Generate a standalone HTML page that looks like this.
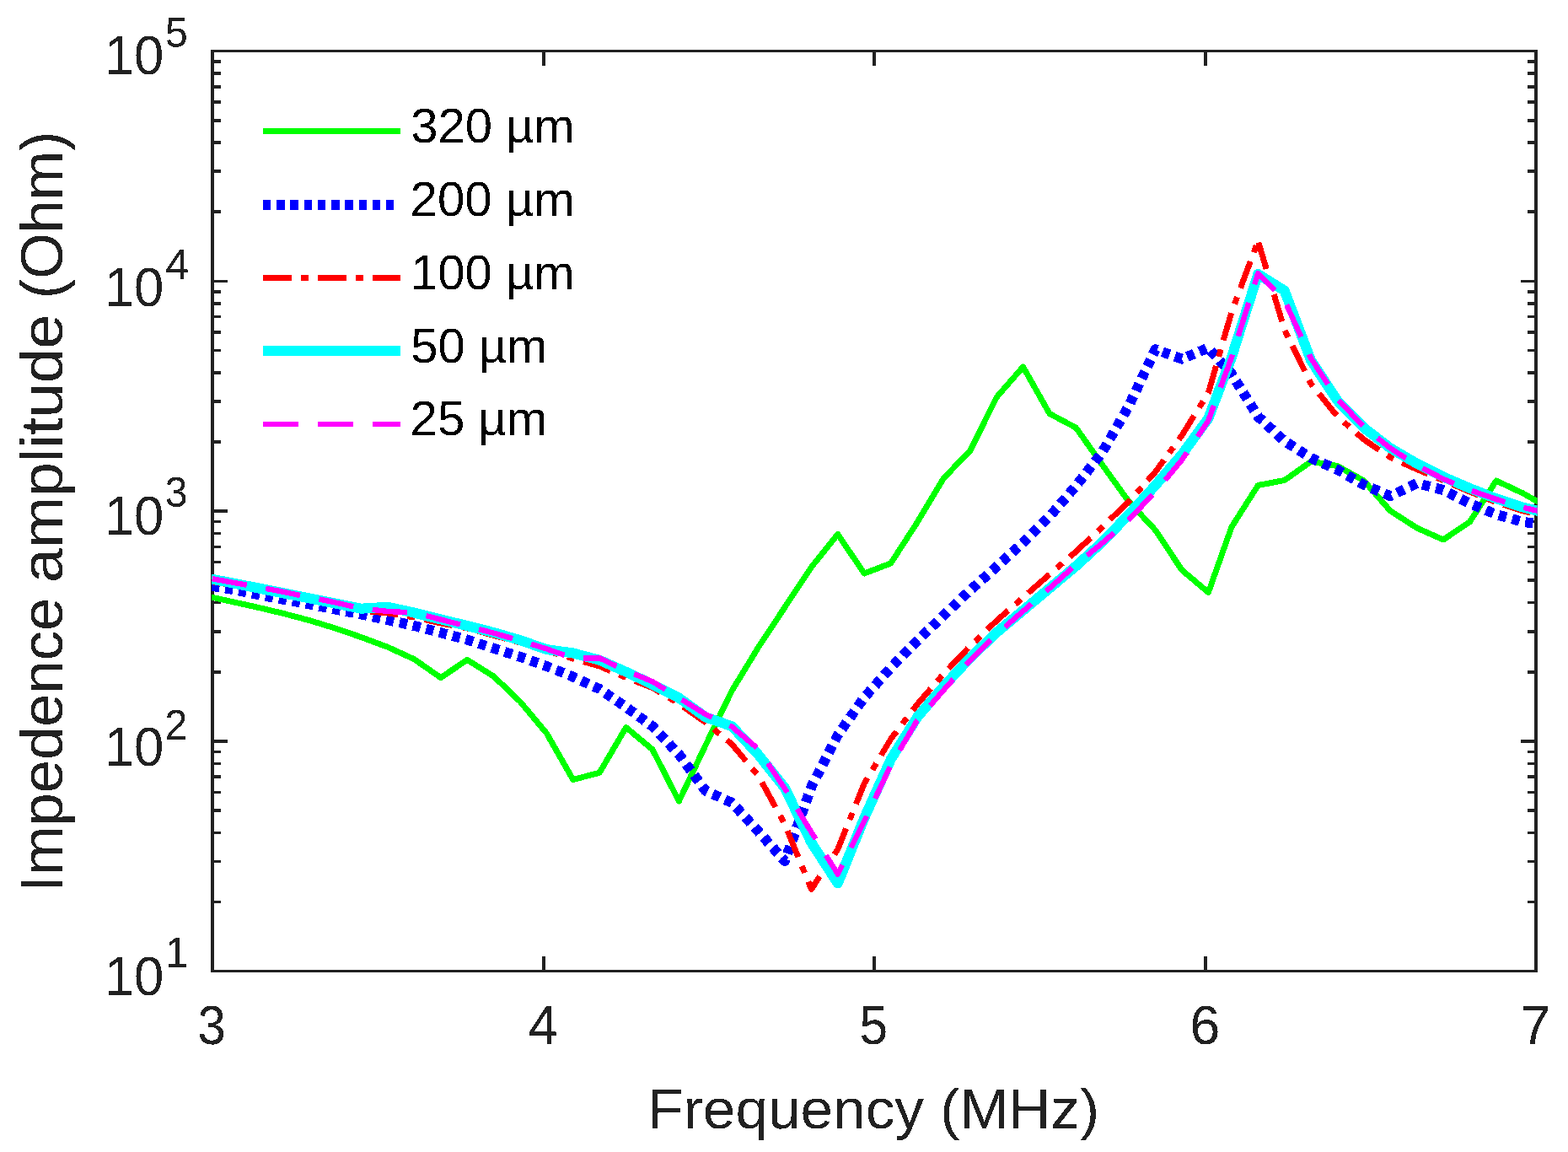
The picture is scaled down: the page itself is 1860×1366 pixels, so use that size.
<!DOCTYPE html>
<html lang="en"><head><meta charset="utf-8"><title>Impedence amplitude vs Frequency</title>
<style>html,body{margin:0;padding:0;background:#fff}body{width:1860px;height:1366px;overflow:hidden}svg{display:block}text{font-family:"Liberation Sans",sans-serif}</style></head><body>
<svg xmlns="http://www.w3.org/2000/svg" width="1860" height="1366" viewBox="0 0 1860 1366">
<rect x="0" y="0" width="1860" height="1366" fill="#fff"/>
<defs><filter id="crisp" filterUnits="userSpaceOnUse" x="0" y="0" width="1860" height="1366" color-interpolation-filters="sRGB"><feComponentTransfer><feFuncA type="discrete" tableValues="0 1"/></feComponentTransfer></filter></defs>
<defs><clipPath id="plot"><rect x="251" y="60.5" width="1572.6" height="1091"/></clipPath></defs>
<g stroke="#212121" fill="none" shape-rendering="crispEdges">
<path stroke-width="3.75" d="M645 1151.5 v-17.4 M645 60.5 v17.4 M1037 1151.5 v-17.4 M1037 60.5 v17.4 M1430 1151.5 v-17.4 M1430 60.5 v17.4"/>
<path stroke-width="3.6" d="M252 73.13 h10 M1822 73.13 h-10 M252 87.08 h10 M1822 87.08 h-10 M252 102.9 h10 M1822 102.9 h-10 M252 121.16 h10 M1822 121.16 h-10 M252 142.76 h10 M1822 142.76 h-10 M252 169.19 h10 M1822 169.19 h-10 M252 203.27 h10 M1822 203.27 h-10 M252 251.29 h10 M1822 251.29 h-10 M252 333.4 h18 M1822 333.4 h-18 M252 345.88 h10 M1822 345.88 h-10 M252 359.83 h10 M1822 359.83 h-10 M252 375.65 h10 M1822 375.65 h-10 M252 393.91 h10 M1822 393.91 h-10 M252 415.51 h10 M1822 415.51 h-10 M252 441.94 h10 M1822 441.94 h-10 M252 476.02 h10 M1822 476.02 h-10 M252 524.04 h10 M1822 524.04 h-10 M252 606.15 h18 M1822 606.15 h-18 M252 618.63 h10 M1822 618.63 h-10 M252 632.58 h10 M1822 632.58 h-10 M252 648.4 h10 M1822 648.4 h-10 M252 666.66 h10 M1822 666.66 h-10 M252 688.26 h10 M1822 688.26 h-10 M252 714.69 h10 M1822 714.69 h-10 M252 748.77 h10 M1822 748.77 h-10 M252 796.79 h10 M1822 796.79 h-10 M252 878.9 h18 M1822 878.9 h-18 M252 891.38 h10 M1822 891.38 h-10 M252 905.33 h10 M1822 905.33 h-10 M252 921.15 h10 M1822 921.15 h-10 M252 939.41 h10 M1822 939.41 h-10 M252 961.01 h10 M1822 961.01 h-10 M252 987.44 h10 M1822 987.44 h-10 M252 1021.52 h10 M1822 1021.52 h-10 M252 1069.54 h10 M1822 1069.54 h-10"/>
<path stroke-width="3.6" d="M250.12 60.5 H1823.88 M250.12 1151.5 H1823.88"/>
<path stroke-width="3.75" d="M252 58.7 V1153.3 M1822 58.7 V1153.3"/>
</g>
<g clip-path="url(#plot)" fill="none" stroke-linejoin="round" stroke-linecap="butt" shape-rendering="crispEdges">
<path stroke="#00ff00" stroke-width="7" d="M240.2 705.7L271.6 712.7L303.0 719.6L334.4 727.0L365.8 735.3L397.2 744.8L428.6 755.6L460.0 767.3L491.4 781.7L522.8 803.6L554.2 782.4L585.6 802.0L617.0 832.0L648.4 869.5L679.8 924.5L711.2 916.2L742.6 862.5L774.0 888.8L805.4 950.0L836.8 884.0L868.2 819.0L899.6 767.5L931.0 720.0L962.4 672.5L993.8 633.5L1025.2 680.0L1056.6 668.0L1088.0 619.5L1119.4 567.0L1150.8 534.5L1182.2 471.0L1213.6 435.0L1245.0 490.5L1276.4 507.2L1307.8 551.5L1339.2 595.0L1370.6 628.7L1402.0 676.0L1433.4 702.5L1460.9 625.0L1492.3 575.5L1523.7 569.5L1555.1 547.3L1586.5 552.5L1617.9 570.0L1649.3 605.8L1680.7 626.0L1712.1 640.0L1743.5 618.8L1774.9 570.0L1806.3 584.8L1837.7 602.4"/>
<g stroke="#0000ff" stroke-width="12" stroke-dasharray="9.3 6.9">
<path pathLength="471.33" stroke-dashoffset="5.00" d="M240.2 693.0L271.6 698.2L303.0 704.4L334.4 710.5L365.8 716.1L397.2 722.4L428.6 728.4L460.0 735.2L491.4 742.0L522.8 750.2L554.2 758.5L585.6 768.8L617.0 778.8L648.4 790.0L679.8 802.5L695.5 809.8"/>
<path pathLength="211.87" stroke-dashoffset="6.53" d="M695.5 809.8L711.2 817.0L742.6 838.5L774.0 861.3L805.4 894.5L836.8 937.5L852.5 944.7"/>
<path pathLength="109.54" stroke-dashoffset="7.79" d="M852.5 944.7L868.2 951.9L899.6 986.0L930.1 1019.9"/>
<path pathLength="5.71" stroke-dashoffset="3.93" d="M930.1 1019.9L931.0 1021.0L932.0 1018.4"/>
<path pathLength="720.68" stroke-dashoffset="9.64" d="M932.0 1018.4L962.4 933.0L993.8 871.5L1025.2 827.0L1056.6 792.0L1088.0 760.0L1119.4 729.5L1150.8 700.0L1182.2 671.9L1213.6 643.5L1245.0 612.5L1276.4 576.0L1307.8 535.8L1339.2 481.0L1354.9 447.6"/>
<path pathLength="90.22" stroke-dashoffset="1.32" d="M1354.9 447.6L1370.6 414.2L1402.0 425.6L1417.7 419.1"/>
<path pathLength="90.40" stroke-dashoffset="10.55" d="M1417.7 419.1L1433.4 412.5L1460.9 443.3L1476.6 468.6"/>
<path pathLength="51.99" stroke-dashoffset="3.75" d="M1476.6 468.6L1492.3 494.0L1508.0 508.5"/>
<path pathLength="145.70" stroke-dashoffset="7.14" d="M1508.0 508.5L1523.7 523.0L1555.1 543.0L1586.5 557.0L1617.9 575.0L1633.6 581.6"/>
<path pathLength="67.12" stroke-dashoffset="7.04" d="M1633.6 581.6L1649.3 588.2L1680.7 573.0L1696.4 577.0"/>
<path pathLength="100.93" stroke-dashoffset="9.36" d="M1696.4 577.0L1712.1 581.0L1743.5 597.0L1774.9 610.0L1790.6 614.4"/>
<path pathLength="47.98" stroke-dashoffset="13.09" d="M1790.6 614.4L1806.3 618.8L1837.7 623.0"/>
</g>
<g stroke="#ff0000" stroke-width="7" stroke-dasharray="33.7 11.4 8.8 11.3">
<path pathLength="861.17" stroke-dashoffset="58.70" d="M240.2 688.0L271.6 693.0L303.0 699.0L334.4 705.0L365.8 711.5L397.2 718.0L428.6 724.0L460.0 727.0L491.4 731.9L522.8 738.9L554.2 744.9L585.6 753.4L617.0 761.9L648.4 771.5L679.8 781.0L711.2 790.0L742.6 803.5L774.0 815.5L805.4 834.5L836.8 856.5L868.2 882.5L899.6 920.0L931.0 977.5L961.5 1052.0"/>
<path pathLength="10.39" stroke-dashoffset="7.07" d="M961.5 1052.0L962.4 1054.3L963.4 1052.9"/>
<path pathLength="624.06" stroke-dashoffset="17.46" d="M963.4 1052.9L993.8 1007.0L1025.2 929.0L1056.6 876.5L1088.0 835.2L1119.4 799.0L1150.8 766.0L1182.2 736.0L1213.6 708.5L1245.0 681.0L1276.4 654.0L1307.8 624.7L1339.2 594.5L1354.9 577.0"/>
<path pathLength="65.93" stroke-dashoffset="54.72" d="M1354.9 577.0L1370.6 559.4L1392.6 529.2"/>
<path pathLength="262.40" stroke-dashoffset="55.45" d="M1392.6 529.2L1402.0 516.2L1433.4 465.7L1460.9 370.0L1491.4 288.1"/>
<path pathLength="10.30" stroke-dashoffset="57.05" d="M1491.4 288.1L1492.3 285.6L1493.2 288.8"/>
<path pathLength="203.40" stroke-dashoffset="2.16" d="M1493.2 288.8L1523.7 391.0L1555.1 455.0L1570.8 474.4"/>
<path pathLength="156.76" stroke-dashoffset="9.96" d="M1570.8 474.4L1586.5 493.8L1617.9 521.2L1649.3 542.5L1680.7 556.5L1696.4 563.0"/>
<path pathLength="150.23" stroke-dashoffset="36.32" d="M1696.4 563.0L1712.1 569.5L1743.5 583.0L1774.9 595.5L1806.3 605.8L1837.7 613.0"/>
</g>
<path stroke="#00ffff" stroke-width="12" d="M240.2 684.7L271.6 690.5L303.0 696.7L334.4 703.0L365.8 709.2L397.2 715.5L428.6 721.7L460.0 719.7L491.4 726.6L522.8 734.4L554.2 742.0L585.6 750.0L617.0 759.1L648.4 770.1L679.8 774.4L711.2 782.8L742.6 796.7L774.0 811.6L805.4 827.5L836.8 850.3L868.2 861.2L899.6 895.0L931.0 934.4L962.4 999.0L993.8 1047.5L1025.2 970.0L1056.6 900.6L1088.0 850.5L1119.4 813.9L1150.8 780.0L1182.2 750.0L1213.6 723.8L1245.0 697.5L1276.4 671.2L1307.8 642.5L1339.2 609.8L1370.6 575.5L1402.0 539.0L1433.4 496.0L1460.9 423.8L1492.3 325.0L1523.7 344.6L1555.1 427.5L1586.5 475.0L1617.9 507.3L1649.3 531.4L1680.7 549.7L1712.1 565.5L1743.5 579.0L1774.9 591.3L1806.3 601.5L1837.7 609.0"/>
<g stroke="#ff00ff" stroke-width="6.4" stroke-dasharray="41.7 22.8">
<path pathLength="874.84" stroke-dashoffset="52.80" d="M240.2 684.0L271.6 689.9L303.0 695.5L334.4 701.5L365.8 708.0L397.2 714.3L428.6 721.5L460.0 725.0L491.4 726.5L522.8 734.6L554.2 742.6L585.6 750.6L617.0 759.7L648.4 769.4L679.8 780.5L711.2 780.4L742.6 795.1L774.0 808.2L805.4 827.5L836.8 846.9L868.2 861.7L899.6 888.3L931.0 935.1L962.4 986.7L992.9 1035.0"/>
<path pathLength="6.86" stroke-dashoffset="24.64" d="M992.9 1035.0L993.8 1036.5L994.8 1034.6"/>
<path pathLength="1354.19" stroke-dashoffset="31.50" d="M994.8 1034.6L1025.2 974.0L1056.6 907.6L1088.0 854.2L1119.4 818.3L1150.8 783.0L1182.2 752.0L1213.6 724.7L1245.0 697.5L1276.4 669.5L1307.8 643.7L1339.2 616.2L1370.6 583.0L1402.0 545.5L1433.4 498.5L1460.9 423.8L1492.3 324.1L1523.7 356.0L1555.1 424.9L1586.5 473.1L1617.9 506.2L1649.3 531.5L1680.7 551.7L1712.1 568.0L1743.5 581.1L1774.9 592.0L1806.3 601.6L1837.7 609.0"/>
</g>
</g>
<g fill="none" stroke-linecap="butt" shape-rendering="crispEdges">
<line x1="312" y1="155.4" x2="475.1" y2="155.4" stroke="#00ff00" stroke-width="7"/>
<line x1="312" y1="243" x2="467.3" y2="243" stroke="#0000ff" stroke-width="11.7" stroke-dasharray="9.3 6.94"/>
<line x1="312" y1="329.4" x2="475.1" y2="329.4" stroke="#ff0000" stroke-width="7" stroke-dasharray="33.7 11.4 8.8 11.3"/>
<line x1="312" y1="415.9" x2="475.1" y2="415.9" stroke="#00ffff" stroke-width="11.7"/>
<line x1="312" y1="503.1" x2="475.1" y2="503.1" stroke="#ff00ff" stroke-width="6.4" stroke-dasharray="41.9 23.3"/>
</g>
<g filter="url(#crisp)">
<text x="0" y="0" font-size="64" fill="#212121" transform="translate(234.61 1237.50) scale(0.9342 1)">3</text>
<text x="0" y="0" font-size="64" fill="#212121" transform="translate(626.65 1237.50) scale(0.9804 1)">4</text>
<text x="0" y="0" font-size="64" fill="#212121" transform="translate(1019.48 1237.50) scale(0.9441 1)">5</text>
<text x="0" y="0" font-size="64" fill="#212121" transform="translate(1411.57 1237.50) scale(1.0088 1)">6</text>
<text x="0" y="0" font-size="64" fill="#212121" transform="translate(1803.87 1237.50) scale(1.0088 1)">7</text>
<text x="0" y="0" font-size="64" fill="#212121" transform="translate(123.72 88.20) scale(0.9927 1)">10</text>
<text x="0" y="0" font-size="50.6" fill="#212121" transform="translate(196.08 56.30) scale(0.9503 1)">5</text>
<text x="0" y="0" font-size="64" fill="#212121" transform="translate(123.72 363.00) scale(0.9927 1)">10</text>
<text x="0" y="0" font-size="50.6" fill="#212121" transform="translate(195.88 330.80) scale(1.0075 1)">4</text>
<text x="0" y="0" font-size="64" fill="#212121" transform="translate(123.72 633.90) scale(0.9927 1)">10</text>
<text x="0" y="0" font-size="50.6" fill="#212121" transform="translate(195.78 601.40) scale(0.9503 1)">3</text>
<text x="0" y="0" font-size="64" fill="#212121" transform="translate(123.72 908.00) scale(0.9927 1)">10</text>
<text x="0" y="0" font-size="50.6" fill="#212121" transform="translate(195.50 876.90) scale(0.9495 1)">2</text>
<text x="0" y="0" font-size="64" fill="#212121" transform="translate(123.72 1180.20) scale(0.9927 1)">10</text>
<text x="0" y="0" font-size="50.6" fill="#212121" transform="translate(195.82 1147.00) scale(0.9835 1)">1</text>
<text x="0" y="0" font-size="67.3" fill="#212121" transform="translate(768.35 1338.40) scale(1.0307 1)">Frequency (MHz)</text>
<text x="0" y="0" font-size="70.3" fill="#212121" transform="translate(73.80 1057.85) rotate(-90) scale(1.0037 1)">Impedence</text>
<text x="0" y="0" font-size="70.3" fill="#212121" transform="translate(73.80 690.94) rotate(-90) scale(1.0443 1)">amplitude</text>
<text x="0" y="0" font-size="70.3" fill="#212121" transform="translate(73.80 354.21) rotate(-90) scale(0.9973 1)">(Ohm)</text>
<text x="0" y="0" font-size="57.5" fill="#000" transform="translate(487.18 168.80) scale(1.0082 1)">320 µm</text>
<text x="0" y="0" font-size="57.5" fill="#000" transform="translate(486.59 255.60) scale(1.0113 1)">200 µm</text>
<text x="0" y="0" font-size="57.5" fill="#000" transform="translate(487.06 342.50) scale(1.0088 1)">100 µm</text>
<text x="0" y="0" font-size="57.5" fill="#000" transform="translate(487.18 429.60) scale(1.0073 1)">50 µm</text>
<text x="0" y="0" font-size="57.5" fill="#000" transform="translate(486.59 515.60) scale(1.0110 1)">25 µm</text>
</g>
</svg></body></html>
